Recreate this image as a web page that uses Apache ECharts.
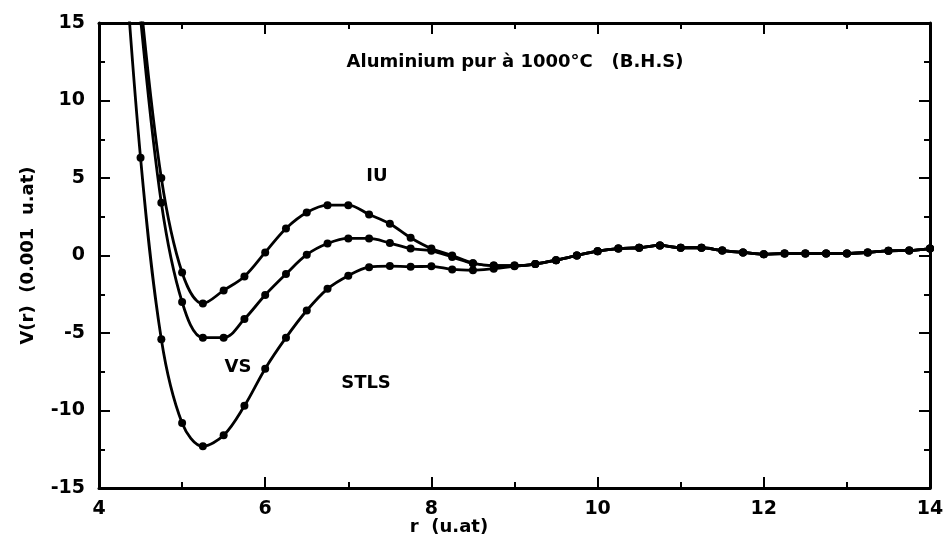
<!DOCTYPE html>
<html>
<head>
<meta charset="utf-8">
<script src="https://cdn.jsdelivr.net/npm/echarts@6/dist/echarts.min.js"></script>
<style>html,body{margin:0;padding:0;background:#fff}#c{width:950px;height:544px}</style>
</head>
<body>
<div id="c"></div>
<script>
// r values (u.at)
const rVals = [4.25,4.5,4.75,5.0,5.25,5.5,5.75,6.0,6.25,6.5,6.75,7.0,7.25,7.5,7.75,8.0,8.25,8.5,8.75,9.0,
  9.25,9.5,9.75,10.0,10.25,10.5,10.75,11.0,11.25,11.5,11.75,12.0,12.25,12.5,12.75,13.0,13.25,13.5,13.75,14.0];
// V(r) in 0.001 u.at
const vIU = [31,16.5,5.0,-1.1,-3.1,-2.25,-1.35,0.2,1.74,2.77,3.25,3.25,2.65,2.05,1.15,0.45,0.0,-0.5,-0.65,-0.65,
  -0.55,-0.3,0.0,0.28,0.45,0.5,0.65,0.5,0.5,0.32,0.2,0.08,0.13,0.13,0.13,0.13,0.2,0.3,0.32,0.45];
const vVS = [30,15.3,3.4,-3.0,-5.3,-5.3,-4.1,-2.55,-1.2,0.05,0.77,1.1,1.1,0.8,0.45,0.3,-0.1,-0.5,-0.65,-0.65,
  -0.55,-0.3,0.0,0.28,0.45,0.5,0.65,0.5,0.5,0.32,0.2,0.08,0.13,0.13,0.13,0.13,0.2,0.3,0.32,0.45];
const vSTLS = [24,6.3,-5.4,-10.8,-12.3,-11.6,-9.7,-7.3,-5.3,-3.55,-2.15,-1.3,-0.75,-0.68,-0.72,-0.7,-0.9,-0.95,-0.85,-0.7,
  -0.55,-0.3,0.0,0.28,0.45,0.5,0.65,0.5,0.5,0.32,0.2,0.08,0.13,0.13,0.13,0.13,0.2,0.3,0.32,0.45];
const seriesNames = ['IU','VS','STLS'];
const xTicks = {min:4, max:14, interval:2};
const yTicks = {min:-15, max:15, interval:5};

const FONT = 'DejaVu Sans';
function pairs(v){ return rVals.map((r,i)=>[r,v[i]]); }
function xAx(pos, show){
  return {type:'value', position:pos, min:xTicks.min, max:xTicks.max, interval:xTicks.interval,
    axisLine:{show:true, onZero:false, lineStyle:{color:'#000', width:3}},
    axisTick:{show:true, inside:true, length:11, lineStyle:{color:'#000', width:2}},
    minorTick:{show:true, splitNumber:2, length:6, lineStyle:{color:'#000', width:2}},
    axisLabel:{show:show, color:'#000', fontSize:19, fontWeight:'bold', fontFamily:FONT, margin:12},
    splitLine:{show:false}, minorSplitLine:{show:false}};
}
function yAx(pos, show){
  return {type:'value', position:pos, min:yTicks.min, max:yTicks.max, interval:yTicks.interval,
    axisLine:{show:true, onZero:false, lineStyle:{color:'#000', width:3}},
    axisTick:{show:true, inside:true, length:11, lineStyle:{color:'#000', width:2}},
    minorTick:{show:true, splitNumber:2, length:6, lineStyle:{color:'#000', width:2}},
    axisLabel:{show:show, color:'#000', fontSize:19, fontWeight:'bold', fontFamily:FONT, margin:14},
    splitLine:{show:false}, minorSplitLine:{show:false},
    name: show ? 'V(r)  (0.001  u.at)' : '', nameLocation:'middle', nameGap:62,
    nameTextStyle:{color:'#000', fontSize:18, fontWeight:'bold', fontFamily:FONT}};
}
const series = [vIU, vVS, vSTLS].map((v,i)=>({
  name: seriesNames[i], type:'line', xAxisIndex:0, yAxisIndex:0, data:pairs(v),
  smooth:0.35, clip:true, symbol:'circle', symbolSize:8, showAllSymbol:true,
  lineStyle:{color:'#000', width:2.8}, itemStyle:{color:'#000'}
}));

const TF = 'bold 18px "DejaVu Sans"';
const chart = echarts.init(document.getElementById('c'), null, {renderer:'canvas'});
chart.setOption({
  animation:false,
  backgroundColor:'#fff',
  grid:{left:99, right:20, top:23, bottom:56, containLabel:false},
  xAxis:[xAx('bottom', true), xAx('top', false)],
  yAxis:[yAx('left', true), yAx('right', false)],
  series: series,
  graphic:[
    {type:'text', x:515, y:62, style:{text:'Aluminium pur à 1000°C   (B.H.S)', font:'bold 18px "DejaVu Sans"', fill:'#000', align:'center', verticalAlign:'middle'}},
    {type:'text', x:377, y:176, style:{text:'IU', font:TF, fill:'#000', align:'center', verticalAlign:'middle'}},
    {type:'text', x:238, y:367, style:{text:'VS', font:TF, fill:'#000', align:'center', verticalAlign:'middle'}},
    {type:'text', x:366, y:383, style:{text:'STLS', font:TF, fill:'#000', align:'center', verticalAlign:'middle'}},
    {type:'text', x:449, y:527, style:{text:'r  (u.at)', font:TF, fill:'#000', align:'center', verticalAlign:'middle'}}
  ]
});
</script>
</body>
</html>
